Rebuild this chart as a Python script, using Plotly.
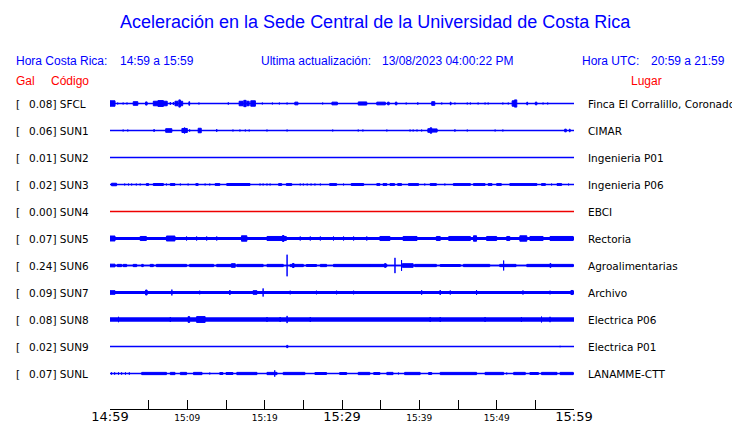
import plotly.graph_objects as go

# ---------------- data ----------------
codes = ["SFCL", "SUN1", "SUN2", "SUN3", "SUN4", "SUN5", "SUN6", "SUN7", "SUN8", "SUN9", "SUNL"]
peaks_gal = [0.08, 0.06, 0.01, 0.02, 0.00, 0.07, 0.24, 0.09, 0.08, 0.02, 0.07]
places = ["Finca El Corralillo, Coronado", "CIMAR", "Ingenieria P01", "Ingenieria P06", "EBCI",
          "Rectoria", "Agroalimentarias", "Archivo", "Electrica P06", "Electrica P01", "LANAMME-CTT"]
# background noise half-amplitude (Gal) of each trace
noise_gal = [0.008, 0.006, 0.0, 0.008, 0.0, 0.036, 0.014, 0.032, 0.048, 0.0, 0.008]

# minutes after 14:59 for the time axis
tick_minutes = [0, 5, 10, 15, 20, 25, 30, 35, 40, 45, 50, 55, 60]
tick_labels = ["14:59", "", "15:09", "", "15:19", "", "15:29", "", "15:39", "", "15:49", "", "15:59"]
major_labels = ["14:59", "15:29", "15:59"]

# bursts: (start minute, end minute, half-amplitude Gal)
ev_SFCL = [(0.0, 0.65, 0.06), (1.0, 1.0, 0.02), (1.7, 1.7, 0.02), (2.2, 2.2, 0.02), (3.0, 3.6, 0.04),
           (4.6, 4.8, 0.035), (5.6, 6.2, 0.05), (6.2, 6.9, 0.065), (6.9, 7.4, 0.05), (7.8, 7.8, 0.03),
           (8.2, 8.2, 0.03), (8.4, 8.8, 0.05), (8.9, 9.1, 0.08), (9.1, 9.4, 0.05), (10.2, 10.3, 0.04),
           (11.5, 11.5, 0.02), (15.3, 15.3, 0.025), (16.7, 17.2, 0.05), (17.3, 17.6, 0.07), (17.7, 18.0, 0.05),
           (18.2, 18.8, 0.06), (19.7, 19.7, 0.02), (21.0, 21.0, 0.02), (21.9, 21.9, 0.02), (22.9, 22.9, 0.02),
           (23.9, 24.3, 0.03), (27.5, 27.5, 0.02), (28.7, 29.4, 0.03), (32.1, 33.2, 0.035), (34.5, 35.6, 0.03),
           (35.9, 36.1, 0.03), (36.9, 37.1, 0.03), (38.3, 38.3, 0.02), (39.8, 39.8, 0.025), (41.6, 42.0, 0.04),
           (42.9, 42.9, 0.02), (44.0, 44.1, 0.03), (44.6, 44.6, 0.02), (46.2, 46.2, 0.02), (46.6, 46.6, 0.02),
           (47.6, 47.6, 0.02), (48.5, 48.5, 0.02), (48.9, 48.9, 0.02), (50.8, 50.8, 0.02), (51.5, 51.5, 0.02),
           (52.0, 52.3, 0.06), (52.3, 52.6, 0.08), (53.9, 54.0, 0.03), (55.0, 55.2, 0.03), (56.0, 56.0, 0.02),
           (56.6, 56.6, 0.02)]
ev_SUN1 = [(1.7, 1.7, 0.02), (2.3, 2.3, 0.02), (5.7, 5.7, 0.03), (7.2, 8.0, 0.04), (9.3, 9.6, 0.045),
           (9.6, 9.7, 0.06), (9.7, 10.0, 0.045), (10.3, 10.3, 0.025), (11.4, 11.8, 0.05), (13.8, 13.8, 0.03),
           (15.9, 15.9, 0.02), (16.8, 16.8, 0.02), (17.5, 17.5, 0.02), (18.0, 18.0, 0.02), (20.3, 20.3, 0.02),
           (22.9, 22.9, 0.02), (28.8, 28.8, 0.02), (32.1, 32.1, 0.02), (32.7, 32.7, 0.02), (35.8, 35.8, 0.02),
           (38.8, 38.8, 0.02), (39.2, 39.2, 0.02), (39.7, 39.7, 0.02), (40.3, 40.3, 0.02), (41.1, 41.4, 0.04),
           (41.4, 41.6, 0.06), (41.6, 42.3, 0.035), (44.6, 44.6, 0.025), (46.2, 46.2, 0.02), (49.8, 49.8, 0.02),
           (50.8, 50.8, 0.02), (58.8, 59.0, 0.03), (59.4, 59.5, 0.03)]
ev_SUN2 = []
ev_SUN3 = [(0.2, 0.85, 0.028), (1.9, 1.9, 0.02), (2.4, 2.4, 0.02), (2.8, 2.8, 0.02), (3.4, 3.4, 0.02),
           (3.9, 3.9, 0.02), (4.7, 5.0, 0.02), (5.6, 6.9, 0.022), (7.3, 7.3, 0.02), (7.8, 8.4, 0.02),
           (9.1, 9.1, 0.02), (10.1, 10.1, 0.02), (11.1, 11.4, 0.02), (12.3, 12.3, 0.02), (12.9, 12.9, 0.02),
           (13.6, 14.2, 0.02), (15.1, 18.1, 0.022), (19.4, 19.4, 0.02), (19.8, 19.8, 0.02), (20.3, 20.3, 0.02),
           (20.7, 20.7, 0.02), (21.8, 22.2, 0.02), (22.8, 23.5, 0.02), (24.6, 24.6, 0.02), (25.0, 25.0, 0.02),
           (25.5, 25.5, 0.02), (26.0, 26.0, 0.02), (26.5, 26.5, 0.02), (27.2, 27.2, 0.02), (28.4, 29.3, 0.02),
           (30.2, 30.2, 0.02), (31.2, 32.8, 0.022), (34.5, 34.9, 0.02), (35.3, 35.8, 0.02), (36.2, 36.8, 0.02),
           (37.2, 37.7, 0.02), (38.6, 39.9, 0.02), (40.7, 40.7, 0.02), (41.4, 42.2, 0.02), (43.3, 43.3, 0.02),
           (44.4, 46.6, 0.02), (47.0, 48.5, 0.02), (48.9, 49.4, 0.02), (50.0, 50.6, 0.02), (51.7, 55.2, 0.02),
           (55.8, 56.3, 0.02), (57.1, 57.1, 0.02), (57.8, 58.4, 0.02), (59.3, 59.3, 0.02)]
ev_SUN4 = []
ev_SUN5 = [(0.0, 0.65, 0.055), (3.9, 4.7, 0.045), (7.3, 8.4, 0.055), (9.9, 9.9, 0.045), (11.2, 11.2, 0.045),
           (12.5, 12.5, 0.045), (13.8, 13.8, 0.045), (17.0, 17.7, 0.06), (20.3, 22.8, 0.045), (22.3, 22.5, 0.065),
           (24.6, 24.6, 0.045), (25.9, 25.9, 0.045), (27.2, 27.2, 0.045), (28.9, 28.9, 0.045), (30.2, 30.2, 0.045),
           (31.5, 31.5, 0.045), (33.2, 33.2, 0.045), (34.9, 36.2, 0.045), (37.9, 39.7, 0.045), (42.2, 42.7, 0.045),
           (43.8, 46.6, 0.045), (47.0, 47.4, 0.06), (48.7, 50.0, 0.045), (51.3, 51.7, 0.045), (53.0, 53.9, 0.06),
           (54.3, 56.0, 0.045), (56.9, 59.9, 0.045)]
ev_SUN6 = [(0.0, 0.65, 0.03), (0.95, 1.5, 0.025), (1.7, 2.15, 0.025), (3.0, 3.45, 0.025), (4.1, 4.3, 0.025),
           (5.2, 5.6, 0.025), (6.0, 9.9, 0.025), (10.3, 13.4, 0.025), (13.8, 15.9, 0.025), (15.7, 16.2, 0.04),
           (16.4, 19.8, 0.025), (20.3, 22.4, 0.025), (22.9, 22.9, 0.24), (23.3, 25.0, 0.025), (23.6, 23.8, 0.045),
           (25.4, 26.7, 0.022), (27.2, 28.0, 0.025), (28.9, 33.6, 0.025), (33.6, 35.8, 0.025), (35.5, 35.7, 0.04),
           (36.85, 36.85, 0.17), (37.7, 37.7, 0.12), (37.8, 39.2, 0.04), (39.4, 42.2, 0.025), (42.7, 45.3, 0.022),
           (45.7, 49.1, 0.025), (50.4, 52.5, 0.025), (50.9, 50.9, 0.11), (53.9, 59.9, 0.025), (56.9, 57.0, 0.045)]
ev_SUN7 = [(0.0, 0.65, 0.04), (4.6, 4.8, 0.055), (8.0, 8.0, 0.065), (11.6, 11.6, 0.04), (15.5, 15.5, 0.055),
           (18.5, 19.0, 0.04), (19.8, 19.8, 0.09), (23.3, 23.3, 0.04), (26.7, 26.7, 0.04), (29.3, 29.3, 0.04),
           (31.5, 31.5, 0.04), (40.3, 40.3, 0.05), (42.7, 42.7, 0.055), (44.0, 44.0, 0.045), (47.4, 47.4, 0.055),
           (53.4, 53.4, 0.045), (56.9, 56.9, 0.04), (59.6, 59.9, 0.045)]
ev_SUN8 = [(1.1, 1.1, 0.06), (7.8, 7.8, 0.055), (10.1, 10.3, 0.065), (11.2, 12.3, 0.065), (20.3, 20.3, 0.055),
           (22.0, 22.0, 0.055), (22.9, 22.9, 0.08), (25.9, 25.9, 0.055), (41.4, 41.4, 0.055), (42.7, 42.7, 0.055),
           (48.5, 48.5, 0.055), (53.2, 53.2, 0.055), (55.8, 55.8, 0.065), (56.9, 56.9, 0.06)]
ev_SUN9 = [(22.85, 23.0, 0.025), (58.2, 58.2, 0.015)]
ev_SUNL = [(0.2, 0.2, 0.025), (0.6, 0.6, 0.025), (1.1, 1.1, 0.025), (1.5, 1.5, 0.025), (2.0, 2.0, 0.025),
           (2.5, 2.5, 0.025), (4.1, 7.3, 0.025), (7.8, 8.4, 0.025), (9.1, 9.9, 0.025), (10.8, 11.9, 0.025),
           (12.9, 12.9, 0.02), (14.2, 14.6, 0.022), (15.0, 15.9, 0.022), (16.4, 19.0, 0.025), (20.3, 21.6, 0.025),
           (21.3, 21.3, 0.07), (22.4, 25.2, 0.025), (26.5, 28.0, 0.022), (29.7, 30.6, 0.022), (32.1, 33.6, 0.025),
           (34.1, 34.9, 0.022), (35.8, 36.6, 0.025), (37.3, 37.3, 0.02), (38.1, 40.1, 0.025), (41.2, 41.6, 0.022),
           (42.7, 47.4, 0.025), (48.5, 50.9, 0.025), (51.3, 51.3, 0.02), (52.2, 53.7, 0.025), (54.3, 55.4, 0.022),
           (55.8, 57.8, 0.025), (58.2, 59.9, 0.025)]
events = [ev_SFCL, ev_SUN1, ev_SUN2, ev_SUN3, ev_SUN4, ev_SUN5, ev_SUN6, ev_SUN7, ev_SUN8, ev_SUN9, ev_SUNL]

# ---------------- styling / layout constants ----------------
GAL_PER_ROW = 0.6
BLUE = "#0000ff"
RED = "#ff0000"
TRACE_RED = "#ee0000"
OFF = 8                                  # page body margin of the browser
W, H = 740 - OFF, 423 - OFF
L, R, T, B = 110 - OFF, 574 - OFF, 90 - OFF, 409 - OFF   # plot area in figure pixels
ROW0 = 103.5 - OFF                       # centre of first trace
ROW_PX = 27
Y_TOP = (ROW0 - T) / ROW_PX
Y_BOT = -((B - ROW0) / ROW_PX)


def px_x(px):
    return (px - OFF - L) / (R - L)


def px_y(py):
    return (B - (py - OFF)) / (B - T)


fig = go.Figure()

for i, code in enumerate(codes):
    y0 = -i
    col = TRACE_RED if code == "SUN4" else BLUE
    n = noise_gal[i] / GAL_PER_ROW
    t0, t1 = tick_minutes[0], tick_minutes[-1]
    if n > 0:
        fig.add_trace(go.Scatter(x=[t0, t1, t1, t0, t0], y=[y0 - n, y0 - n, y0 + n, y0 + n, y0 - n],
                                 mode="lines", fill="toself", fillcolor=col, line=dict(color=col, width=0),
                                 hoverinfo="skip", showlegend=False))
    fig.add_trace(go.Scatter(x=[t0, t1], y=[y0, y0], mode="lines", line=dict(color=col, width=1.5),
                             hoverinfo="skip", showlegend=False))
    xs, ys = [], []
    for (a, b, amp) in events[i]:
        h = amp / GAL_PER_ROW
        xs += [a, b, b, a, a, None]
        ys += [y0 - h, y0 - h, y0 + h, y0 + h, y0 - h, None]
    if xs:
        fig.add_trace(go.Scatter(x=xs, y=ys, mode="lines", fill="toself", fillcolor=col,
                                 line=dict(color=col, width=1), hoverinfo="skip", showlegend=False))

ann = []
LBL_FONT = dict(family="DejaVu Sans", size=10.5, color="black")
for i, code in enumerate(codes):
    ann.append(dict(x=px_x(14), xref="paper", y=-i, yref="y", text="[", showarrow=False,
                    xanchor="left", yanchor="middle", font=LBL_FONT))
    ann.append(dict(x=px_x(27), xref="paper", y=-i, yref="y", text=f"{peaks_gal[i]:.2f}] {code}",
                    showarrow=False, xanchor="left", yanchor="middle", font=LBL_FONT))
    ann.append(dict(x=px_x(586), xref="paper", y=-i, yref="y", text=places[i], showarrow=False,
                    xanchor="left", yanchor="middle", font=LBL_FONT))

HDR = dict(family="Liberation Sans, Arial, sans-serif", size=12, color=BLUE)
HDR_RED = dict(family="Liberation Sans, Arial, sans-serif", size=12, color=RED)
hdr = [(14, 61, "Hora Costa Rica:", HDR), (118, 61, "14:59 a 15:59", HDR),
       (259, 61, "Ultima actualización:", HDR), (380, 61, "13/08/2023 04:00:22 PM", HDR),
       (580, 61, "Hora UTC:", HDR), (649, 61, "20:59 a 21:59", HDR),
       (14, 81, "Gal", HDR_RED), (49, 81, "Código", HDR_RED),
       (629, 81, "Lugar", HDR_RED)]
for (xp, yp, txt, f) in hdr:
    ann.append(dict(x=px_x(xp), xref="paper", y=px_y(yp), yref="paper", text=txt, showarrow=False,
                    xanchor="left", yanchor="middle", font=f))
ann.append(dict(x=px_x(375), xref="paper", y=px_y(22), yref="paper",
                text="Aceleración en la Sede Central de la Universidad de Costa Rica", showarrow=False,
                xanchor="center", yanchor="middle",
                font=dict(family="Liberation Sans, Arial, sans-serif", size=18, color=BLUE)))

ticktext = [(f'<span style="font-size:13px">{t}</span>' if t in major_labels else t) for t in tick_labels]

fig.update_layout(
    width=W, height=H, margin=dict(l=L, r=W - R, t=T, b=H - B, autoexpand=False),
    paper_bgcolor="white", plot_bgcolor="white", annotations=ann, showlegend=False,
    xaxis=dict(range=[tick_minutes[0], tick_minutes[-1]], tickmode="array", tickvals=tick_minutes,
               ticktext=ticktext, ticks="inside", ticklen=9, tickcolor="black", tickwidth=1,
               showline=True, linecolor="black", linewidth=1, showgrid=False, zeroline=False,
               tickfont=dict(family="DejaVu Sans", size=9, color="black"), fixedrange=True,
               ticklabelstandoff=0),
    yaxis=dict(range=[Y_BOT, Y_TOP], showticklabels=False, showgrid=False, zeroline=False,
               showline=False, ticks="", fixedrange=True),
)

fig.write_html("out.html")
